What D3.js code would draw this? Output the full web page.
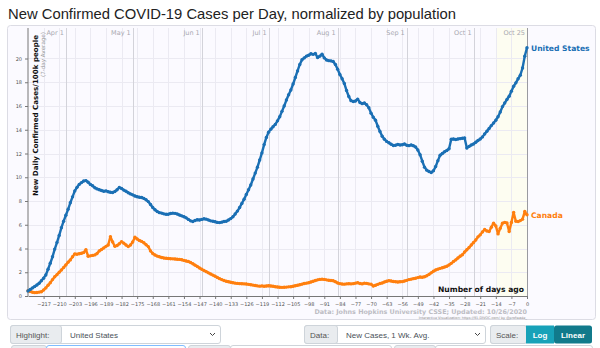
<!DOCTYPE html>
<html>
<head>
<meta charset="utf-8">
<script src="https://cdn.jsdelivr.net/npm/d3@7"></script>
<style>
  body { margin: 0; background: #fff; }
  svg { display: block; }
</style>
</head>
<body>
<script>
const width = 600
const height = 348

// days before Oct 25 2020, one value per day starting 224 days back
const firstDay = -224
const usCases = [
  0.42, 0.55, 0.68, 0.80, 0.93, 1.07, 1.28, 1.50, 1.77, 2.25,
  2.76, 3.30, 3.95, 4.50, 5.10, 5.75, 6.30, 6.80, 7.30, 7.85,
  8.35, 8.85, 9.15, 9.40, 9.55, 9.68, 9.72, 9.58, 9.40, 9.28,
  9.12, 9.02, 8.95, 8.88, 8.82, 8.85, 8.78, 8.74, 8.72, 8.80,
  8.95, 9.14, 9.05, 8.92, 8.82, 8.70, 8.60, 8.52, 8.42, 8.36,
  8.32, 8.30, 8.22, 8.10, 7.95, 7.70, 7.45, 7.26, 7.12, 7.02,
  6.98, 6.92, 6.88, 6.89, 6.95, 6.98, 6.96, 6.90, 6.82, 6.75,
  6.68, 6.58, 6.45, 6.33, 6.28, 6.36, 6.42, 6.40, 6.45, 6.50,
  6.47, 6.40, 6.33, 6.30, 6.25, 6.20, 6.18, 6.22, 6.28, 6.30,
  6.40, 6.52, 6.68, 6.90, 7.15, 7.45, 7.80, 8.15, 8.55, 8.95,
  9.35, 9.85, 10.35, 10.85, 11.45, 12.05, 12.75, 13.35, 13.80, 14.05,
  14.25, 14.45, 14.75, 15.10, 15.55, 16.00, 16.50, 16.95, 17.35, 17.85,
  18.40, 18.95, 19.50, 19.90, 20.05, 20.20, 20.28, 20.40, 20.35, 20.42,
  20.08, 20.20, 20.36, 20.05, 19.88, 19.82, 19.80, 19.75, 19.50, 19.10,
  18.65, 18.30, 17.90, 17.30, 16.80, 16.45, 16.38, 16.42, 16.58, 16.30,
  16.20, 16.25, 16.10, 15.85, 15.40, 15.05, 14.80, 14.30, 13.85, 13.45,
  13.20, 13.02, 12.90, 12.78, 12.68, 12.70, 12.76, 12.72, 12.74, 12.80,
  12.70, 12.66, 12.72, 12.65, 12.55, 12.30, 11.90, 11.35, 10.85, 10.60,
  10.48, 10.40, 10.55, 10.90, 11.40, 11.85, 12.00, 12.15, 12.25, 12.40,
  13.20, 13.22, 13.18, 13.22, 13.25, 13.28, 13.30, 12.46, 12.60, 12.72,
  12.80, 12.95, 13.10, 13.22, 13.40, 13.65, 13.87, 14.10, 14.35, 14.57,
  14.80, 15.10, 15.50, 15.95, 16.25, 16.55, 16.82, 17.25, 17.66, 17.95,
  18.29, 18.60, 19.20, 20.20, 20.90
]
const canadaCases = [
  0.45, 0.38, 0.32, 0.28, 0.30, 0.33, 0.36, 0.50, 0.68, 0.90,
  1.12, 1.38, 1.62, 1.80, 2.00, 2.19, 2.40, 2.62, 2.85, 3.04,
  3.30, 3.55, 3.52, 3.56, 3.60, 3.66, 3.90, 3.35, 3.38, 3.42,
  3.46, 3.58, 3.80, 3.92, 4.05, 4.18, 4.30, 5.00, 4.55, 4.18,
  4.25, 4.40, 4.58, 4.45, 4.30, 4.16, 4.30, 4.55, 4.95, 4.80,
  4.68, 4.60, 4.48, 4.32, 4.16, 3.80, 3.58, 3.45, 3.36, 3.30,
  3.24, 3.20, 3.18, 3.16, 3.14, 3.13, 3.12, 3.10, 3.08, 3.05,
  3.00, 2.95, 2.90, 2.82, 2.72, 2.60, 2.48, 2.36, 2.25, 2.15,
  2.05, 1.95, 1.85, 1.76, 1.66, 1.56, 1.46, 1.38, 1.30, 1.24,
  1.20, 1.16, 1.12, 1.08, 1.06, 1.04, 1.03, 1.02, 1.01, 0.98,
  0.95, 0.92, 0.88, 0.85, 0.83, 0.85, 0.82, 0.84, 0.86, 0.84,
  0.82, 0.78, 0.76, 0.74, 0.73, 0.74, 0.75, 0.77, 0.78, 0.82,
  0.86, 0.90, 0.95, 1.00, 1.05, 1.08, 1.12, 1.18, 1.24, 1.30,
  1.36, 1.40, 1.42, 1.40, 1.36, 1.33, 1.30, 1.28, 1.20, 1.10,
  1.04, 1.01, 1.00, 1.02, 1.03, 1.02, 1.04, 1.08, 1.12, 1.05,
  1.02, 1.08, 1.06, 1.02, 1.00, 0.84, 0.90, 0.98, 1.05, 1.10,
  1.18, 1.24, 1.29, 1.26, 1.22, 1.20, 1.18, 1.20, 1.21, 1.26,
  1.32, 1.38, 1.42, 1.46, 1.50, 1.55, 1.60, 1.58, 1.62, 1.70,
  1.82, 1.95, 2.08, 2.19, 2.26, 2.33, 2.38, 2.44, 2.50, 2.62,
  2.75, 2.90, 3.04, 3.20, 3.35, 3.48, 3.70, 3.90, 4.08, 4.30,
  4.50, 4.72, 4.98, 5.15, 5.40, 5.60, 5.48, 5.43, 5.80, 6.13,
  5.90, 5.23, 5.70, 6.13, 6.20, 6.15, 5.43, 6.20, 7.03, 6.30,
  6.27, 6.35, 6.47, 7.11, 6.84
]
const countries = ["United States", "Canada"]
const colors = ["#1a6fb4", "#ff7f0e"]

const dayTicks = d3.range(-217, 1, 7)
const monthLabels = ["Apr 1", "May 1", "Jun 1", "Jul 1", "Aug 1", "Sep 1", "Oct 1", "Oct 25"]
const monthDays = [-207, -177, -146, -116, -85, -54, -24, 0]
const yTicks = d3.range(0, 21, 2)

const svg = d3.select("body").append("svg")
  .attr("width", width)
  .attr("height", height)

// title
svg.append("text")
  .attr("x", 8).attr("y", 19)
  .attr("font-family", "Liberation Sans, Arial, sans-serif")
  .attr("font-size", 14.8)
  .attr("fill", "#222")
  .text("New Confirmed COVID-19 Cases per Day, normalized by population")

// chart card
svg.append("rect")
  .attr("x", 7.5).attr("y", 25.5)
  .attr("width", 588).attr("height", 294)
  .attr("rx", 3)
  .attr("fill", "#fbfaff")
  .attr("stroke", "#dcdce4")

const plot = { left: 28, right: 527, top: 28, bottom: 296 }

const x = d3.scaleLinear().domain([firstDay, 0]).range([plot.left, plot.right])
const y = d3.scaleLinear().domain([0, 22.4]).range([plot.bottom, 30])

// recent two weeks shading
svg.append("rect")
  .attr("x", x(-14)).attr("y", plot.top)
  .attr("width", x(0) - x(-14)).attr("height", plot.bottom - plot.top)
  .attr("fill", "#fdfdf1")

// grid
const grid = svg.append("g")
grid.selectAll(".hgrid").data(yTicks.slice(1)).enter().append("line")
  .attr("x1", plot.left).attr("x2", plot.right)
  .attr("y1", d => Math.round(y(d)) + 0.5).attr("y2", d => Math.round(y(d)) + 0.5)
  .attr("stroke", "#ebeaf2")
grid.selectAll(".vgrid").data(dayTicks.filter(d => d < 0)).enter().append("line")
  .attr("x1", d => Math.round(x(d)) + 0.5).attr("x2", d => Math.round(x(d)) + 0.5)
  .attr("y1", plot.top).attr("y2", plot.bottom)
  .attr("stroke", "#ebeaf2")
grid.selectAll(".mgrid").data(monthDays).enter().append("line")
  .attr("x1", d => Math.round(x(d)) + 0.5).attr("x2", d => Math.round(x(d)) + 0.5)
  .attr("y1", plot.top).attr("y2", plot.bottom)
  .attr("stroke", (d, i) => i === monthDays.length - 1 ? "#9a9aa0" : "#d3d3da")

// month labels along the top
svg.append("g").selectAll("text").data(monthLabels).enter().append("text")
  .attr("x", (d, i) => x(monthDays[i]) - 2)
  .attr("y", 35)
  .attr("text-anchor", "end")
  .attr("font-family", "DejaVu Sans, sans-serif")
  .attr("font-size", 6.5)
  .attr("fill", "#a8a8b0")
  .text(d => d)

// axes
const axisFont = g => g.selectAll("text")
  .attr("font-family", "DejaVu Sans, sans-serif")
  .attr("font-size", 5)
  .attr("fill", "#555")

svg.append("g")
  .attr("transform", `translate(0,${plot.bottom})`)
  .call(d3.axisBottom(x).tickValues(dayTicks).tickSize(3).tickPadding(3).tickSizeOuter(0).tickFormat(d3.format("d")))
  .call(axisFont)
  .call(g => g.selectAll("line,path").attr("stroke", "#777"))

svg.append("g")
  .attr("transform", `translate(${plot.left},0)`)
  .call(d3.axisLeft(y).tickValues(yTicks).tickSize(3).tickPadding(3).tickSizeOuter(0))
  .call(axisFont)
  .call(g => g.select(".domain").attr("d", `M0,${plot.bottom}V${plot.top}`))
  .call(g => g.selectAll("line,path").attr("stroke", "#777"))

// y axis titles
svg.append("text")
  .attr("transform", `translate(38,35) rotate(-90)`)
  .attr("text-anchor", "end")
  .attr("font-family", "DejaVu Sans, sans-serif")
  .attr("font-weight", "bold")
  .attr("font-size", 7.1)
  .attr("fill", "#111")
  .text("New Daily Confirmed Cases/100k people")
svg.append("text")
  .attr("transform", `translate(45,32) rotate(-90)`)
  .attr("text-anchor", "end")
  .attr("font-family", "DejaVu Sans, sans-serif")
  .attr("font-size", 5.6)
  .attr("fill", "#999")
  .text("(7-day Average)")

// series
const series = [usCases, canadaCases]
const line = d3.line()
  .x((d, i) => x(firstDay + i))
  .y(d => y(d))

series.slice().reverse().forEach((vals, k) => {
  const i = series.length - 1 - k
  const g = svg.append("g")
  g.append("path")
    .datum(vals)
    .attr("d", line)
    .attr("fill", "none")
    .attr("stroke", colors[i])
    .attr("stroke-width", 2.4)
    .attr("stroke-linejoin", "round")
  g.selectAll("circle").data(vals).enter().append("circle")
    .attr("cx", (d, j) => x(firstDay + j))
    .attr("cy", d => y(d))
    .attr("r", 1.7)
    .attr("fill", colors[i])
  svg.append("text")
    .attr("x", x(0) + 4)
    .attr("y", y(vals[vals.length - 1]) + 3)
    .attr("font-family", "DejaVu Sans, sans-serif")
    .attr("font-weight", "bold")
    .attr("font-size", 7.6)
    .attr("fill", colors[i])
    .text(countries[i])
})

svg.append("text")
  .attr("x", 524).attr("y", 292)
  .attr("text-anchor", "end")
  .attr("font-family", "DejaVu Sans, sans-serif")
  .attr("font-weight", "bold")
  .attr("font-size", 7.6)
  .attr("fill", "#111")
  .text("Number of days ago")

svg.append("text")
  .attr("x", 527).attr("y", 314)
  .attr("text-anchor", "end")
  .attr("font-family", "DejaVu Sans, sans-serif")
  .attr("font-weight", "bold")
  .attr("font-size", 6.4)
  .attr("fill", "#bdbdc4")
  .text("Data: Johns Hopkins University CSSE; Updated: 10/26/2020")
svg.append("text")
  .attr("x", 527).attr("y", 318.5)
  .attr("text-anchor", "end")
  .attr("font-family", "DejaVu Sans, sans-serif")
  .attr("font-size", 3.4)
  .attr("fill", "#888")
  .text("Interactive Visualization: https://91-DIVOC.com/ by @profwade_")

// controls row
const ctl = svg.append("g").attr("font-family", "Liberation Sans, Arial, sans-serif").attr("font-size", 8)
function group(x0, addonW, w, label, value) {
  ctl.append("rect").attr("x", x0 + 0.5).attr("y", 325.5).attr("width", w).attr("height", 18)
    .attr("rx", 2.5).attr("fill", "#fff").attr("stroke", "#ced4da")
  ctl.append("rect").attr("x", x0 + 0.5).attr("y", 325.5).attr("width", addonW).attr("height", 18)
    .attr("rx", 2.5).attr("fill", "#e9ecef").attr("stroke", "#ced4da")
  ctl.append("text").attr("x", x0 + 6).attr("y", 337.5).attr("fill", "#555").text(label)
  if (value) {
    ctl.append("text").attr("x", x0 + addonW + 9).attr("y", 337.5).attr("fill", "#495057").text(value)
    ctl.append("path")
      .attr("d", `M${x0 + w - 10},333 l2.5,2.5 l2.5,-2.5`)
      .attr("fill", "none").attr("stroke", "#444").attr("stroke-width", 1)
  }
}
group(10, 51, 210, "Highlight:", "United States")
group(304, 33, 181, "Data:", "New Cases, 1 Wk. Avg.")
group(490, 36, 36, "Scale:", null)
ctl.append("rect").attr("x", 526).attr("y", 325.5).attr("width", 28).attr("height", 18).attr("fill", "#17a2b8")
ctl.append("rect").attr("x", 554).attr("y", 325.5).attr("width", 38).attr("height", 18).attr("rx", 2.5).attr("fill", "#117a8b")
ctl.append("text").attr("x", 540).attr("y", 337.5).attr("text-anchor", "middle").attr("fill", "#fff").attr("font-weight", "bold").text("Log")
ctl.append("text").attr("x", 573).attr("y", 337.5).attr("text-anchor", "middle").attr("fill", "#fff").attr("font-weight", "bold").text("Linear")

// next row of inputs, cut off at the bottom edge
const row2 = [[11, 35, "#e9ecef", "#ced4da"], [46, 139, "#fff", "#80bdff"], [188, 42, "#e9ecef", "#ced4da"],
  [230, 161, "#fff", "#ced4da"], [394, 41, "#e9ecef", "#ced4da"], [435, 157, "#fff", "#ced4da"]]
svg.append("g").selectAll("rect").data(row2).enter().append("rect")
  .attr("x", d => d[0] + 0.5).attr("y", 345.5).attr("width", d => d[1]).attr("height", 10)
  .attr("rx", 2.5).attr("fill", d => d[2]).attr("stroke", d => d[3])
</script>
</body>
</html>
